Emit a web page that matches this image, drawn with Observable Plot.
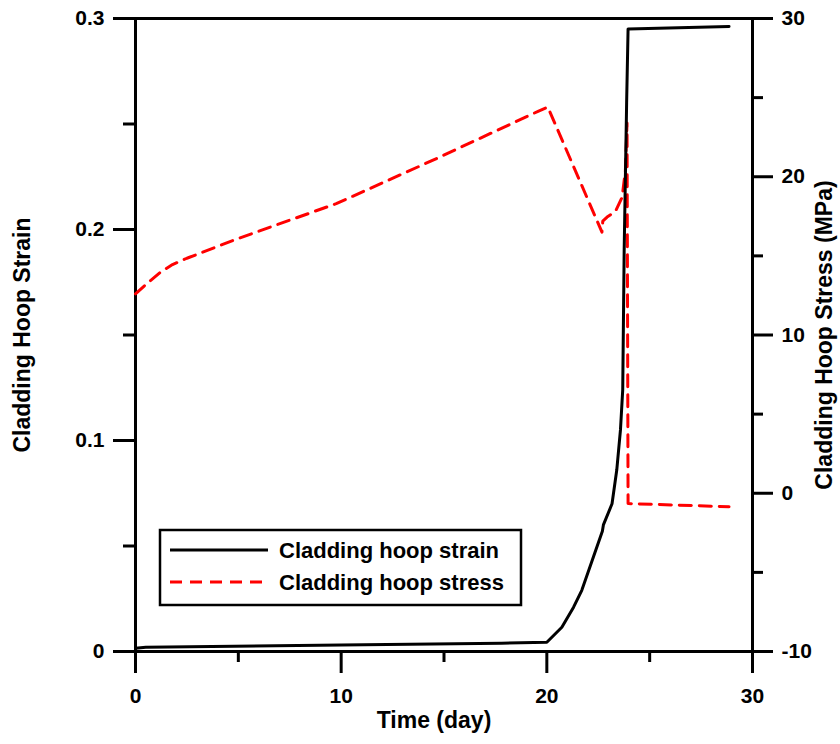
<!DOCTYPE html>
<html><head><meta charset="utf-8">
<script src="https://cdn.jsdelivr.net/npm/d3@7"></script>
<script src="https://cdn.jsdelivr.net/npm/@observablehq/plot@0.6"></script>
<style>
body{margin:0;background:#fff;font-family:"Liberation Sans",Arial,sans-serif;}
#wrap{position:relative;width:840px;height:744px;}
#legend{position:absolute;left:0;top:0;}
</style>
</head><body>
<div id="wrap"></div>
<script>
// Cladding hoop strain (left axis)
const strainDay = [0, 0.5, 10, 17.8, 20, 20.73, 21.3, 21.7, 22.2, 22.7, 22.75, 23.17, 23.4, 23.58, 23.69, 23.76, 23.88, 23.95, 28.86];
const strainVal = [0.0015, 0.002, 0.0031, 0.0039, 0.0044, 0.0115, 0.021, 0.029, 0.043, 0.057, 0.060, 0.070, 0.086, 0.105, 0.124, 0.19, 0.26, 0.295, 0.2962];
// Cladding hoop stress in MPa (right axis)
const stressDay = [0, 0.6, 1.2, 1.8, 2.5, 5, 9.76, 14.55, 19.6, 20.05, 22.68, 22.72, 22.93, 23.33, 23.66, 23.82, 23.9, 23.95, 28.86];
const stressVal = [12.6, 13.3, 13.95, 14.45, 14.85, 16.1, 18.3, 21.1, 24.15, 24.4, 16.5, 17.2, 17.45, 17.8, 18.7, 20.4, 23.4, -0.65, -0.85];

const xMajor = [0, 10, 20, 30];
const xMinor = [5, 15, 25];
const leftMajor = [0, 0.1, 0.2, 0.3];
const leftMinor = [0.05, 0.15, 0.25];
const rightMajor = [-10, 0, 10, 20, 30];
const rightMinor = [-5, 5, 15, 25];
const seriesNames = ["Cladding hoop strain", "Cladding hoop stress"];
const xTitle = "Time (day)";
const leftTitle = "Cladding Hoop Strain";
const rightTitle = "Cladding Hoop Stress (MPa)";

const strainDomain = [0, 0.3];
const stressDomain = [-10, 30];
const toY = s => (s - stressDomain[0]) / (stressDomain[1] - stressDomain[0]) * (strainDomain[1] - strainDomain[0]) + strainDomain[0];
const fromY = y => (y - strainDomain[0]) / (strainDomain[1] - strainDomain[0]) * (stressDomain[1] - stressDomain[0]) + stressDomain[0];

const strainData = strainDay.map((d, i) => ({day: d, v: strainVal[i]}));
const stressData = stressDay.map((d, i) => ({day: d, v: toY(stressVal[i])}));

const W = 840, H = 744, mL = 135, mR = 88, mT = 18, mB = 93;
const dash = "12,8";

const chart = Plot.plot({
  width: W, height: H,
  marginLeft: mL, marginRight: mR, marginTop: mT, marginBottom: mB,
  x: {domain: [0, 30]},
  y: {domain: strainDomain},
  style: {fontFamily: "'Liberation Sans', Arial, sans-serif", fontWeight: "bold", fontSize: "20px", color: "#000", background: "#fff", overflow: "visible"},
  marks: [
    Plot.axisX({ticks: xMajor, tickSize: 22, tickPadding: 15, strokeWidth: 3, label: null, tickFormat: d => String(d), fontSize: 21}),
    Plot.axisX({ticks: xMinor, tickSize: 11, strokeWidth: 3, label: null, tickFormat: () => ""}),
    Plot.text([xTitle], {frameAnchor: "bottom", text: d => d, dy: 76, dx: -10, fontSize: 23, fontWeight: "bold"}),
    Plot.axisY({ticks: leftMajor, tickSize: 22, tickPadding: 9, strokeWidth: 3, label: null, tickFormat: d => d === 0 ? "0" : d.toFixed(1), fontSize: 21}),
    Plot.axisY({ticks: leftMinor, tickSize: 12, strokeWidth: 3, label: null, tickFormat: () => ""}),
    Plot.axisY({ticks: [], label: leftTitle, labelAnchor: "center", labelArrow: "none", labelOffset: 122, fontSize: 23}),
    Plot.axisY({anchor: "right", ticks: rightMajor.map(toY), tickSize: 20, tickPadding: 9, strokeWidth: 3, label: null, tickFormat: d => String(Math.round(fromY(d))), fontSize: 21}),
    Plot.axisY({anchor: "right", ticks: rightMinor.map(toY), tickSize: 10, strokeWidth: 3, label: null, tickFormat: () => ""}),
    Plot.axisY({anchor: "right", ticks: [], label: rightTitle, labelAnchor: "center", labelArrow: "none", labelOffset: 79, fontSize: 23}),
    Plot.frame({stroke: "#000", strokeWidth: 3}),
    Plot.line(stressData, {x: "day", y: "v", stroke: "#ff0000", strokeWidth: 3, strokeDasharray: dash, curve: "linear"}),
    Plot.line(strainData, {x: "day", y: "v", stroke: "#000", strokeWidth: 3, curve: "linear"})
  ]
});

const wrap = document.getElementById("wrap");
wrap.appendChild(chart);

// Legend (SVG overlay)
const ns = "http://www.w3.org/2000/svg";
const leg = document.createElementNS(ns, "svg");
leg.setAttribute("id", "legend");
leg.setAttribute("width", W);
leg.setAttribute("height", H);
leg.style.pointerEvents = "none";
const box = document.createElementNS(ns, "rect");
box.setAttribute("x", 160); box.setAttribute("y", 530);
box.setAttribute("width", 361); box.setAttribute("height", 75);
box.setAttribute("fill", "#fff"); box.setAttribute("stroke", "#000"); box.setAttribute("stroke-width", 2.5);
leg.appendChild(box);
const styles = [{stroke: "#000", dash: null}, {stroke: "#ff0000", dash: dash}];
seriesNames.forEach((name, i) => {
  const y = 550 + i * 32;
  const ln = document.createElementNS(ns, "line");
  ln.setAttribute("x1", 170); ln.setAttribute("x2", 268);
  ln.setAttribute("y1", y); ln.setAttribute("y2", y);
  ln.setAttribute("stroke", styles[i].stroke); ln.setAttribute("stroke-width", 3);
  if (styles[i].dash) ln.setAttribute("stroke-dasharray", styles[i].dash);
  leg.appendChild(ln);
  const t = document.createElementNS(ns, "text");
  t.setAttribute("x", 279); t.setAttribute("y", y);
  t.setAttribute("dy", "0.36em");
  t.setAttribute("font-family", "'Liberation Sans', Arial, sans-serif");
  t.setAttribute("font-weight", "bold");
  t.setAttribute("font-size", 22);
  t.textContent = name;
  leg.appendChild(t);
});
wrap.appendChild(leg);
</script>
</body></html>
